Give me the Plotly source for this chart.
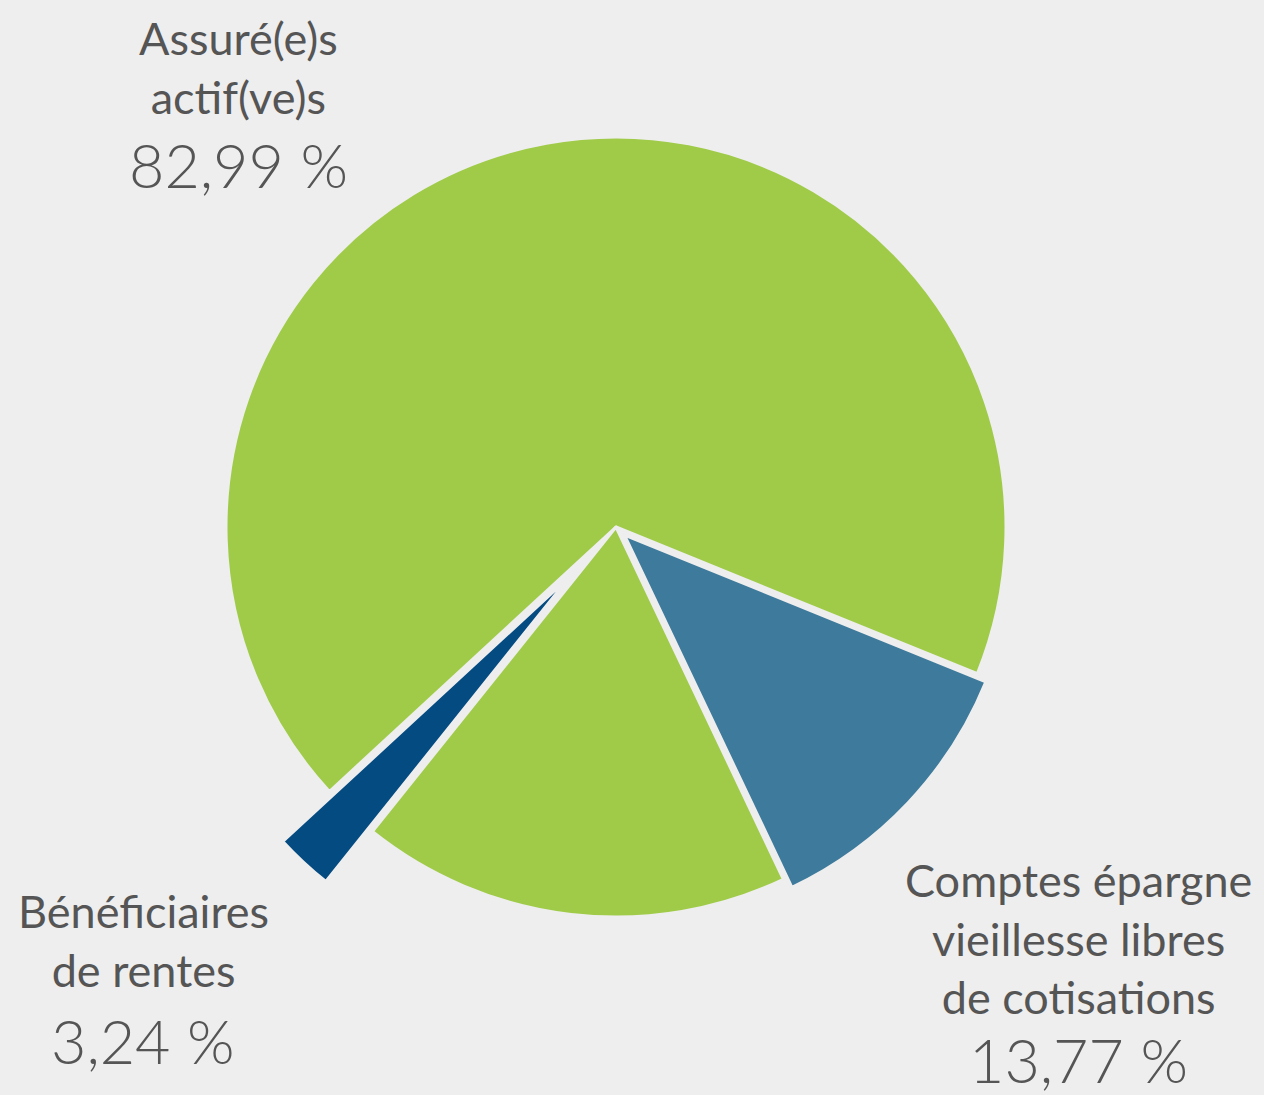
import plotly.graph_objects as go

# ---- data ----
slice_names = ["Assuré(e)s actif(ve)s", "Comptes épargne vieillesse libres de cotisations",
               "Assuré(e)s actif(ve)s (partie 2)", "Bénéficiaires de rentes"]
slice_values = [68.0, 11.8, 17.8, 2.4]          # drawn slice sizes
slice_colors = ["#9FCB48", "#3E7A9B", "#9FCB48", "#044B82"]
slice_pull = [0, 0.03, 0, 0.175]

label_titles = ["Assuré(e)s<br>actif(ve)s",
                "Comptes épargne<br>vieillesse libres<br>de cotisations",
                "Bénéficiaires<br>de rentes"]
label_percent = [82.99, 13.77, 3.24]

W, H = 1264, 1095
BG = "#EEEEEE"
TXT = "#555555"

# pie geometry: centre (616, 527) px, radius 390 px
cx, cy, r = 616, 527, 390
box = 2 * r * (1 + max(slice_pull))
dom_x = [(cx - box / 2) / W, (cx + box / 2) / W]
dom_y = [1 - (cy + box / 2) / H, 1 - (cy - box / 2) / H]

fig = go.Figure(go.Pie(
    labels=slice_names,
    values=slice_values,
    sort=False,
    direction="clockwise",
    rotation=-132.7,
    pull=slice_pull,
    marker=dict(colors=slice_colors, line=dict(color=BG, width=3)),
    textinfo="none",
    hoverinfo="skip",
    showlegend=False,
    domain=dict(x=dom_x, y=dom_y),
))

def fmt(v):
    return f"{v:.2f}".replace(".", ",") + " %"

# label positions (px): (x centre, y centre of title block, y centre of percent)
label_pos = [(238, 67, 165), (1078, 938, 1059), (143, 940, 1040)]

anns = []
for title, pct, (x, yt, yp) in zip(label_titles, label_percent, label_pos):
    anns.append(dict(text=title, x=x / W, y=1 - yt / H, xref="paper", yref="paper",
                     xanchor="center", yanchor="middle", showarrow=False, align="center",
                     font=dict(family="Lato", size=45, color=TXT, weight=400)))
    anns.append(dict(text=fmt(pct), x=x / W, y=1 - yp / H, xref="paper", yref="paper",
                     xanchor="center", yanchor="middle", showarrow=False,
                     font=dict(family="Lato", size=61, color=TXT, weight=300)))

fig.update_layout(
    width=W, height=H,
    margin=dict(l=0, r=0, t=0, b=0),
    paper_bgcolor=BG, plot_bgcolor=BG,
    annotations=anns,
)

fig.write_html(
    "out.html",
    config={"displayModeBar": False},
    post_script="document.body.style.margin='0';document.body.style.background='#EEEEEE';",
)
